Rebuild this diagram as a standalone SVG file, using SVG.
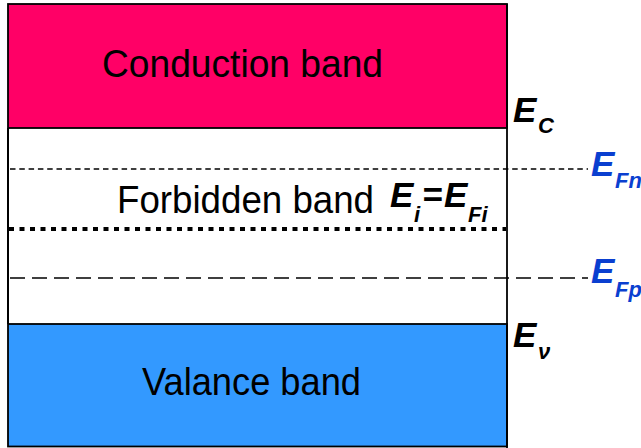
<svg xmlns="http://www.w3.org/2000/svg" width="641" height="448" viewBox="0 0 641 448">
<style>
.band{font-family:"Liberation Sans",Arial,sans-serif;font-size:38px;fill:#000}
.e{font-family:"Liberation Sans",Arial,sans-serif;font-style:italic;font-weight:bold;font-size:35px}
.sub{font-size:22px}
.blue{fill:#0a3fd0}
.blk{fill:#000}
</style>
<rect width="641" height="448" fill="#fff"/>
<g id="conduction-band">
<rect x="8" y="4" width="499" height="124" fill="#ff0066" stroke="#000" stroke-width="1.8"/>
<text class="band" x="102" y="77" textLength="281" lengthAdjust="spacingAndGlyphs">Conduction band</text>
</g>
<g id="valence-band">
<rect x="8" y="324" width="499" height="122.5" fill="#3399ff" stroke="#000" stroke-width="1.8"/>
<text class="band" x="142" y="395" textLength="219" lengthAdjust="spacingAndGlyphs">Valance band</text>
</g>
<g id="forbidden-band">
<line x1="8" y1="128" x2="8" y2="324" stroke="#000" stroke-width="2"/>
<line x1="507" y1="4" x2="507" y2="448" stroke="#000" stroke-width="1.8"/>
<text class="band" x="117" y="213" textLength="257" lengthAdjust="spacingAndGlyphs">Forbidden band</text>
</g>
<g id="levels">
<line x1="10" y1="169" x2="588" y2="169" stroke="#000" stroke-width="1.4" stroke-dasharray="5.5 3.8"/>
<line x1="9" y1="229" x2="506" y2="229" stroke="#000" stroke-width="4" stroke-dasharray="5 5.5"/>
<line x1="10" y1="278" x2="588" y2="278" stroke="#000" stroke-width="1.6" stroke-dasharray="15 7"/>
</g>
<g id="label-ec"><text class="e blk" x="513" y="122">E<tspan class="sub" dy="11" x="538">C</tspan></text></g>
<g id="label-efn"><text class="e blue" x="591" y="176">E<tspan class="sub" dy="12" x="615">Fn</tspan></text></g>
<g id="label-ei"><text class="e blk" x="390" y="207">E<tspan class="sub" dy="15" x="414">i</tspan><tspan dy="-15" x="422">=</tspan><tspan x="444">E</tspan><tspan class="sub" dy="15" x="468">Fi</tspan></text></g>
<g id="label-efp"><text class="e blue" x="591" y="283">E<tspan class="sub" dy="14" x="615">Fp</tspan></text></g>
<g id="label-ev"><text class="e blk" x="513" y="347">E<tspan class="sub" dy="12" x="538">ν</tspan></text></g>
</svg>
